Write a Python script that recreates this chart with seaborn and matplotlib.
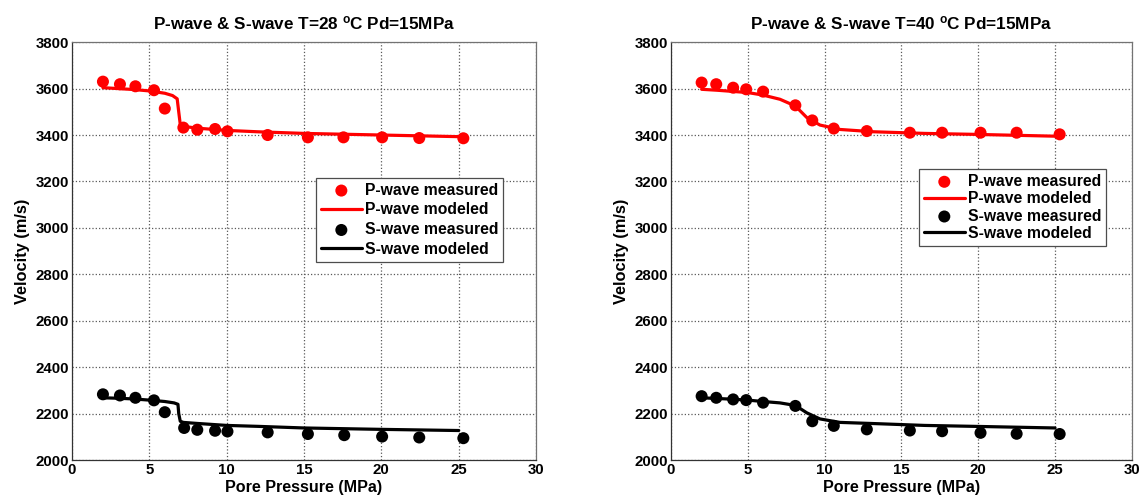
import pandas as pd
import matplotlib
matplotlib.use('Agg')
import matplotlib.pyplot as plt
import seaborn as sns

# T=28 C, measured
p28_x = [2.0, 3.1, 4.1, 5.3, 6.0, 7.2, 8.1, 9.25, 10.05, 12.65, 15.25, 17.55, 20.05, 22.45, 25.3]
p28_v = [3630, 3619, 3610, 3593, 3514, 3432, 3423, 3426, 3416, 3400, 3390, 3390, 3390, 3387, 3386]
s28_x = [2.0, 3.1, 4.1, 5.3, 6.0, 7.25, 8.1, 9.25, 10.05, 12.65, 15.25, 17.6, 20.05, 22.45, 25.3]
s28_v = [2283, 2278, 2268, 2257, 2206, 2138, 2130, 2126, 2123, 2119, 2112, 2107, 2101, 2097, 2094]

# T=28 C, modeled
p28_mx = [2, 3, 4, 5, 6, 6.5, 6.8, 6.9, 7.0, 7.2, 8, 10, 12, 15, 20, 25]
p28_mv = [3604, 3600, 3596, 3590, 3580, 3570, 3556, 3500, 3445, 3438, 3430, 3420, 3414, 3407, 3400, 3393]
s28_mx = [2, 3, 4, 5, 6, 6.6, 6.85, 6.9, 7.0, 7.2, 8, 10, 12, 15, 20, 25]
s28_mv = [2268, 2266, 2263, 2258, 2252, 2246, 2240, 2200, 2167, 2162, 2158, 2149, 2145, 2138, 2132, 2127]

# T=40 C, measured
p40_x = [2.0, 2.95, 4.05, 4.9, 6.0, 8.1, 9.2, 10.6, 12.75, 15.55, 17.65, 20.15, 22.5, 25.3]
p40_v = [3626, 3619, 3604, 3597, 3587, 3528, 3463, 3428, 3417, 3410, 3410, 3410, 3410, 3403]
s40_x = [2.0, 2.95, 4.05, 4.9, 6.0, 8.1, 9.2, 10.6, 12.75, 15.55, 17.65, 20.15, 22.5, 25.3]
s40_v = [2275, 2268, 2261, 2258, 2247, 2233, 2167, 2147, 2132, 2127, 2124, 2117, 2113, 2112]

# T=40 C, modeled
p40_mx = [2, 3, 4, 5, 6, 7.1, 8.1, 8.85, 9.7, 11, 13.2, 16.5, 19.7, 25]
p40_mv = [3597, 3593, 3588, 3583, 3572, 3554, 3525, 3475, 3443, 3424, 3414, 3407, 3403, 3395]
s40_mx = [2, 3, 4, 5, 6, 7.1, 8.1, 8.85, 9.7, 11, 13.2, 16.5, 19.7, 25]
s40_mv = [2268, 2265, 2262, 2258, 2252, 2246, 2235, 2203, 2177, 2162, 2157, 2149, 2145, 2138]

titles = ['P-wave & S-wave T=28 $^{o}$C Pd=15MPa', 'P-wave & S-wave T=40 $^{o}$C Pd=15MPa']

sns.set_style('white')
plt.rcParams['font.family'] = ['Liberation Sans', 'DejaVu Sans']
plt.rcParams['font.weight'] = 'bold'
plt.rcParams['text.color'] = 'black'
plt.rcParams['axes.labelcolor'] = 'black'
plt.rcParams['xtick.color'] = 'black'
plt.rcParams['ytick.color'] = 'black'
plt.rcParams['mathtext.fontset'] = 'custom'
plt.rcParams['mathtext.rm'] = 'Liberation Sans:bold'
plt.rcParams['mathtext.it'] = 'Liberation Sans:bold'
plt.rcParams['mathtext.bf'] = 'Liberation Sans:bold'

fig = plt.figure(figsize=(11.41, 4.98), dpi=100)
ax1 = fig.add_axes([0.0631, 0.0763, 0.4067, 0.839])
ax2 = fig.add_axes([0.588, 0.0763, 0.404, 0.839])

panels = [
    (ax1, p28_x, p28_v, p28_mx, p28_mv, s28_x, s28_v, s28_mx, s28_mv, (0.929, 0.675), 0.3),
    (ax2, p40_x, p40_v, p40_mx, p40_mv, s40_x, s40_v, s40_mx, s40_mv, (0.944, 0.696), 0.15),
]

for i, (ax, px, pv, pmx, pmv, sx, sv, smx, smv, anchor, lspace) in enumerate(panels):
    sns.scatterplot(x=px, y=pv, ax=ax, color='#ff0000', s=75, edgecolor='none',
                    label='P-wave measured', zorder=3)
    sns.lineplot(x=pmx, y=pmv, ax=ax, color='#ff0000', linewidth=2.3, sort=False,
                 label='P-wave modeled', zorder=2)
    sns.scatterplot(x=sx, y=sv, ax=ax, color='black', s=75, edgecolor='none',
                    label='S-wave measured', zorder=3)
    sns.lineplot(x=smx, y=smv, ax=ax, color='black', linewidth=2.3, sort=False,
                 label='S-wave modeled', zorder=2)

    ax.set_xlim(0, 30)
    ax.set_ylim(2000, 3800)
    ax.set_xticks(range(0, 31, 5))
    ax.set_yticks(range(2000, 3801, 200))
    ax.grid(True, linestyle=':', color='0.35', linewidth=0.9)
    ax.tick_params(direction='in', length=4, labelsize=10.8, width=0.8, pad=2)
    for lab in ax.get_xticklabels() + ax.get_yticklabels():
        lab.set_fontweight('bold')
    for sp in ax.spines.values():
        sp.set_color('0.45')
        sp.set_linewidth(0.9)
    ax.spines['left'].set_color('0.2')
    ax.spines['bottom'].set_color('0.2')

    ax.set_title(titles[i], fontsize=12.3, fontweight='bold', pad=9)
    ax.set_xlabel('Pore Pressure (MPa)', fontsize=11.6, fontweight='bold', labelpad=2)
    ax.set_ylabel('Velocity (m/s)', fontsize=11.8, fontweight='bold', labelpad=4)

    leg = ax.legend(loc='upper right', bbox_to_anchor=anchor, fontsize=11.3,
                    fancybox=False, framealpha=1, edgecolor='0.3',
                    handlelength=2.6, handletextpad=0.2, borderpad=0.3,
                    labelspacing=lspace, borderaxespad=0)
    leg.get_frame().set_linewidth(0.9)
    for t in leg.get_texts():
        t.set_fontweight('bold')

fig.savefig('out.png', dpi=100)
